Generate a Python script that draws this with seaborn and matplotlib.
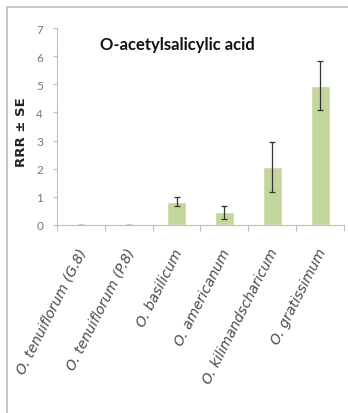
import matplotlib
matplotlib.use("Agg")
import matplotlib.pyplot as plt
import seaborn as sns
import pandas as pd
from matplotlib.patches import Rectangle
from matplotlib.transforms import blended_transform_factory

species = ["O. tenuiflorum (G.8)", "O. tenuiflorum (P.8)", "O. basilicum",
           "O. americanum", "O. kilimandscharicum", "O. gratissimum"]
rrr = [0.01, 0.01, 0.82, 0.46, 2.05, 4.94]
se = [0.0, 0.0, 0.16, 0.23, 0.89, 0.87]
yticks = [0, 1, 2, 3, 4, 5, 6, 7]

sns.set_theme(style="white")
plt.rcParams["font.family"] = ["Lato", "DejaVu Sans"]

df = pd.DataFrame({"species": species, "rrr": rrr})

fig = plt.figure(figsize=(3.48, 4.14), dpi=100)
ax = fig.add_axes([57 / 348, 1 - 226 / 414, 287 / 348, 197 / 414])

sns.barplot(data=df, x="species", y="rrr", color="#c3d69b", saturation=1,
            width=0.4, errorbar=None, ax=ax)
ax.errorbar(range(len(species)), rrr, yerr=se, fmt="none", ecolor="#333333",
            elinewidth=0.9, capsize=2.5, capthick=0.9)

ax.set_ylim(0, 7)
ax.set_xlim(-0.5, len(species) - 0.5)
ax.set_yticks(yticks)
ax.set_yticklabels([str(t) for t in yticks], color="#777777", fontsize=8.5)

# category boundaries carry the x ticks
ax.set_xticks([i - 0.5 for i in range(len(species) + 1)])
ax.set_xticklabels([])
ax.tick_params(axis="x", length=4, color="#bfbfbf", width=0.8, direction="out", bottom=True)
ax.tick_params(axis="y", length=3, color="#bfbfbf", width=0.8, direction="out", left=True, pad=7)
for i, name in enumerate(species):
    ax.text(i + 0.05, -0.85, name, rotation=63, rotation_mode="anchor",
            ha="right", va="center", fontsize=10, style="italic",
            family=["DejaVu Sans"], color="#4a4a4a")

for side in ["top", "right"]:
    ax.spines[side].set_visible(False)
for side in ["left", "bottom"]:
    ax.spines[side].set_color("#bfbfbf")
    ax.spines[side].set_linewidth(0.8)

ax.set_xlabel("")
ax.set_ylabel("RRR ± SE", fontsize=9.5, fontweight="bold", family=["DejaVu Sans"], color="#222222")
ax.yaxis.set_label_coords(-0.101, 0.475)

title_tf = blended_transform_factory(ax.transAxes, ax.transData)
ax.text(0.42, 6.44, "O-acetylsalicylic acid", transform=title_tf, ha="center", va="center",
        fontsize=12, fontweight="bold", color="#111111")

fig.patches.append(Rectangle((7 / 348, -0.05), 1.2, 1 - 8 / 414 + 0.05,
                             transform=fig.transFigure, fill=False,
                             edgecolor="#bbbbbb", linewidth=1.2))

fig.savefig("out.png", dpi=100)
